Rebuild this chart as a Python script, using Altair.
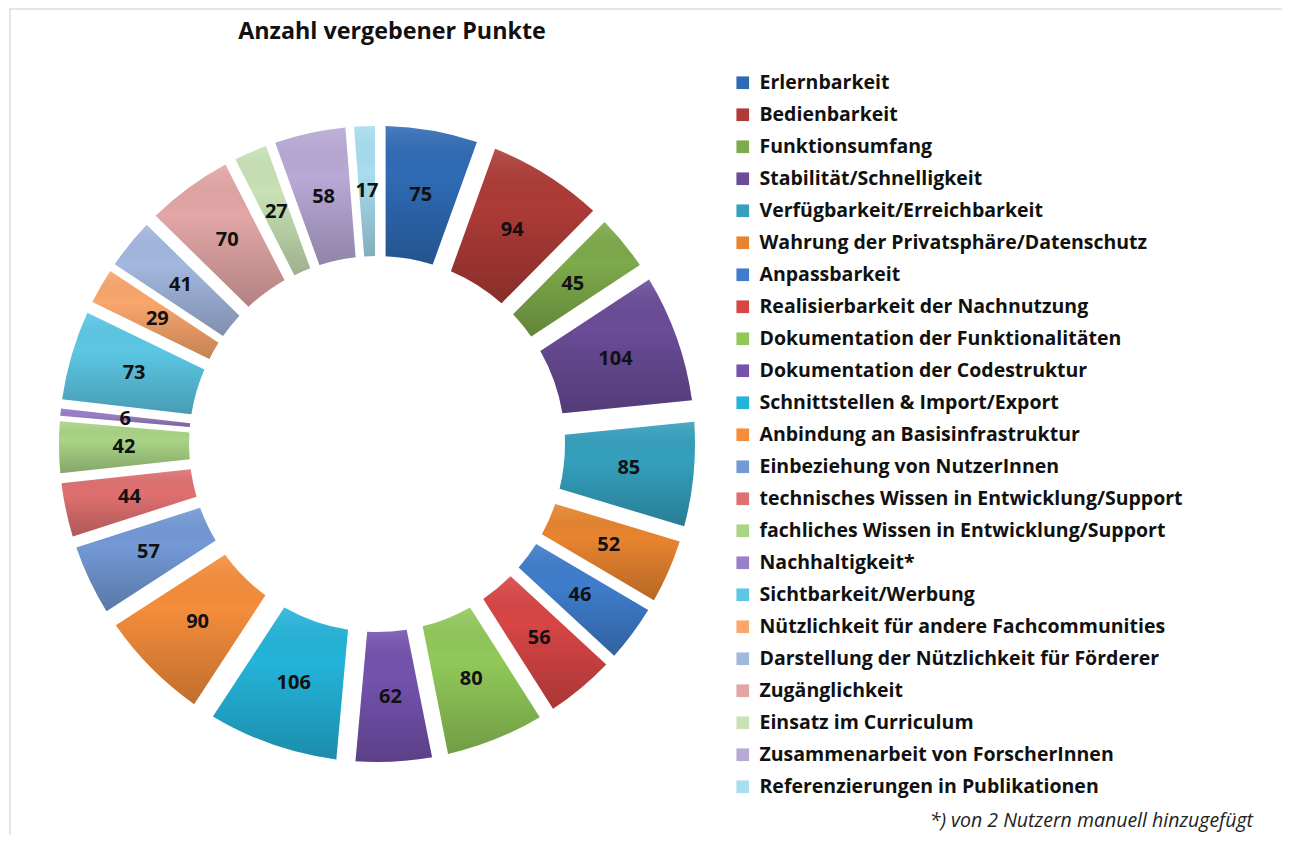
import altair as alt
import pandas as pd

names = [
    "Erlernbarkeit", "Bedienbarkeit", "Funktionsumfang", "Stabilität/Schnelligkeit",
    "Verfügbarkeit/Erreichbarkeit", "Wahrung der Privatsphäre/Datenschutz", "Anpassbarkeit",
    "Realisierbarkeit der Nachnutzung", "Dokumentation der Funktionalitäten",
    "Dokumentation der Codestruktur", "Schnittstellen & Import/Export",
    "Anbindung an Basisinfrastruktur", "Einbeziehung von NutzerInnen",
    "technisches Wissen in Entwicklung/Support", "fachliches Wissen in Entwicklung/Support",
    "Nachhaltigkeit*", "Sichtbarkeit/Werbung", "Nützlichkeit für andere Fachcommunities",
    "Darstellung der Nützlichkeit für Förderer", "Zugänglichkeit", "Einsatz im Curriculum",
    "Zusammenarbeit von ForscherInnen", "Referenzierungen in Publikationen",
]
values = [75, 94, 45, 104, 85, 52, 46, 56, 80, 62, 106, 90, 57, 44, 42, 6, 73, 29, 41, 70, 27, 58, 17]
colors = [
    "#2F6BB5", "#AE3B37", "#7DAA4A", "#6A4C98", "#34A0BE", "#E8842F",
    "#3F7DCC", "#D84545", "#91C959", "#7452AE", "#24B4DA", "#F58D3B",
    "#7399D6", "#E07070", "#AAD486", "#9A7EC8", "#5CC8E6", "#FAA66C",
    "#A3B8DF", "#E3A6A6", "#C8E2B5", "#B8A9D6", "#A8DEF0",
]
title_text = "Anzahl vergebener Punkte"
footnote_text = "*) von 2 Nutzern manuell hinzugefügt"

df = pd.DataFrame({"name": names, "value": values, "idx": list(range(len(names)))})

W, H = 1274, 827
CX, CY = 366, 436
RI, RO = 188, 318
RP = (RI ** 2 + RO ** 2) ** 0.5
D = 50
FONT = "Open Sans"

pad = alt.ExprRef(expr=f"2*{D}*sin(PI*datum.value/datum.total)/{RP:.2f}")

base = alt.Chart(df).transform_joinaggregate(total="sum(value)")
theta = alt.Theta("value:Q", stack=True)
order = alt.Order("idx:Q", sort="ascending")

arcs = base.mark_arc(innerRadius=RI, outerRadius=RO, padAngle=pad, strokeWidth=0).encode(
    theta=theta,
    order=order,
    color=alt.Color(
        "name:N",
        scale=alt.Scale(domain=names, range=colors),
        sort=names,
        legend=alt.Legend(
            title=None, orient="none", legendX=722, legendY=65,
            symbolType="square", symbolSize=160, symbolStrokeWidth=0,
            labelFont=FONT, labelFontSize=19.5, labelFontWeight=700,
            labelColor="#111111", labelLimit=700, rowPadding=11,
            labelOffset=7, padding=0,
        ),
    ),
    x=alt.value(CX),
    y=alt.value(CY),
)

shade = base.mark_arc(
    innerRadius=RI, outerRadius=RO, padAngle=pad, strokeWidth=0,
    fill=alt.LinearGradient(
        gradient="linear",
        stops=[
            alt.GradientStop(color="rgba(255,255,255,0.12)", offset=0),
            alt.GradientStop(color="rgba(0,0,0,0.0)", offset=0.35),
            alt.GradientStop(color="rgba(0,0,0,0.22)", offset=1),
        ],
        x1=0, x2=0, y1=0, y2=1,
    ),
).encode(theta=theta, order=order, detail="name:N", x=alt.value(CX), y=alt.value(CY))

labels = base.mark_text(
    radius=(RI + RO) / 2, font=FONT, fontSize=20, fontWeight=700, color="#111111",
    baseline="middle", align="center",
).encode(
    theta=theta, order=order, detail="name:N", text="value:Q",
    x=alt.value(CX), y=alt.value(CY),
)

tdf = pd.DataFrame({"t": [title_text]})
title = alt.Chart(tdf).mark_text(
    font=FONT, fontSize=23.3, fontWeight=700, color="#111111", align="center", baseline="middle"
).encode(text="t:N", x=alt.value(381), y=alt.value(24))

fdf = pd.DataFrame({"t": [footnote_text]})
foot = alt.Chart(fdf).mark_text(
    font=FONT, fontSize=19.5, fontStyle="italic", color="#222222", align="right", baseline="middle"
).encode(text="t:N", x=alt.value(1242), y=alt.value(813))

bdf = pd.DataFrame({"a": [0]})
top_line = alt.Chart(bdf).mark_rule(color="#cccccc", strokeWidth=1).encode(
    x=alt.value(-2), x2=alt.value(W), y=alt.value(1)
)
left_line = alt.Chart(bdf).mark_rule(color="#cccccc", strokeWidth=1).encode(
    x=alt.value(-1), y=alt.value(1), y2=alt.value(H)
)

chart = (
    alt.layer(top_line, left_line, arcs, shade, labels, title, foot)
    .properties(
        width=W, height=H, padding=0,
        autosize=alt.AutoSizeParams(type="fit", contains="padding"),
    )
    .configure(background="white")
    .configure_view(stroke=None)
)

chart.save("out.html", embed_options={"renderer": "svg", "actions": False})
